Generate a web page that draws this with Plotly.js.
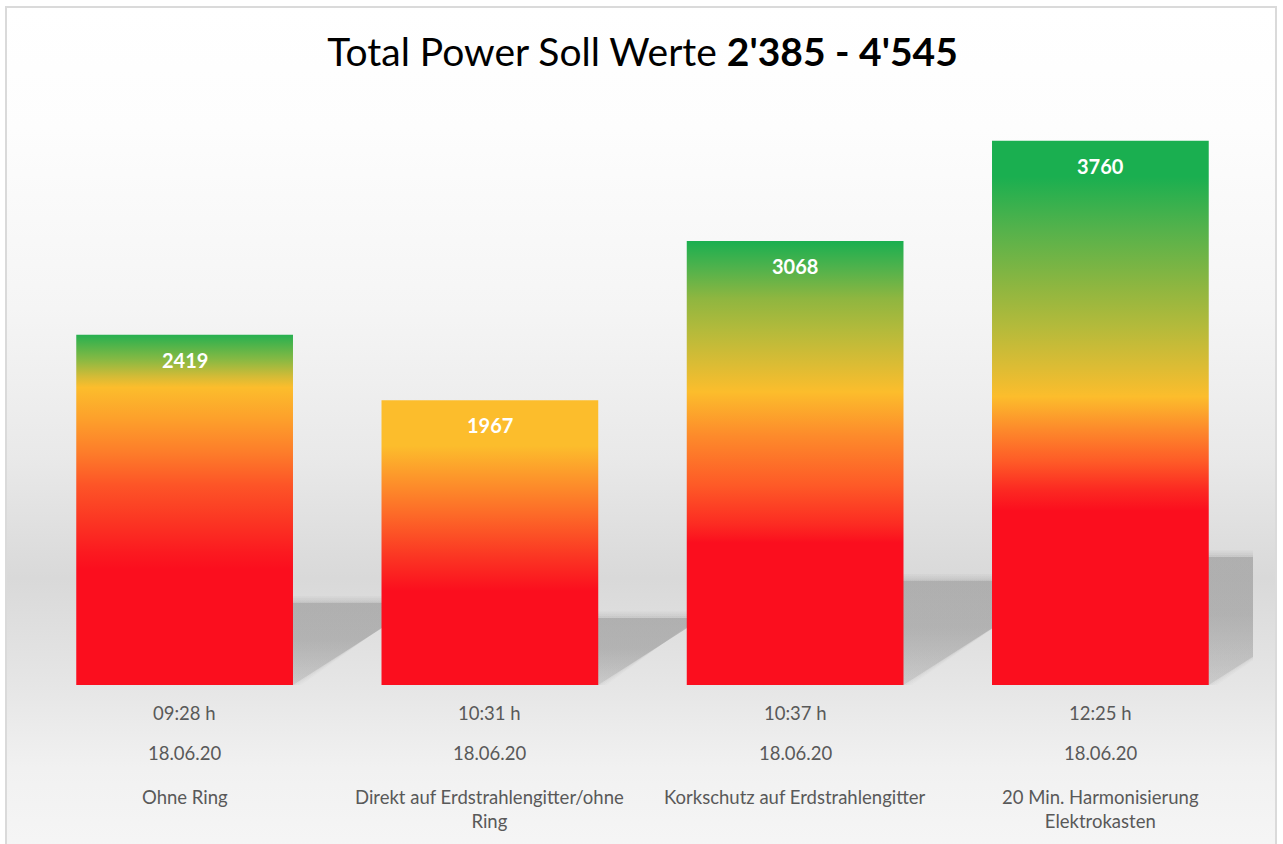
<!DOCTYPE html>
<html>
<head>
<meta charset="utf-8">
<script src="https://cdn.plot.ly/plotly-3.0.1.min.js"></script>
<style>
  html, body { margin: 0; padding: 0; background: #ffffff; }
  #frame {
    position: absolute; left: 5px; top: 6px; width: 1272px; height: 850px;
    border: 2px solid #dadada; box-sizing: border-box;
    background: linear-gradient(to bottom,
      #ffffff 0px, #fdfdfd 120px, #f5f5f5 300px, #e9e9e9 450px,
      #d9d9d9 570px, #e6e6e6 680px, #f1f1f1 760px, #f6f6f6 850px);
  }
  #chart { position: absolute; left: 0; top: 0; width: 1283px; height: 844px; }
</style>
</head>
<body>
<div id="frame"></div>
<div id="chart"></div>
<script>
// ---- data ----
const times = ["09:28 h", "10:31 h", "10:37 h", "12:25 h"];
const dates = ["18.06.20", "18.06.20", "18.06.20", "18.06.20"];
const descriptions = [
  "Ohne Ring",
  "Direkt auf Erdstrahlengitter/ohne<br>Ring",
  "Korkschutz auf Erdstrahlengitter",
  "20 Min. Harmonisierung<br>Elektrokasten"
];
const values = [2419, 1967, 3068, 3760];

// ---- style ----
const RED = "#fb0e1e", YEL = "#fcbd2c", GRN = "#1aaf50";
const gradients = [
  [[0, RED], [0.33, RED], [0.38, "#fb1a20"], [0.47, "#fb3623"], [0.57, "#fd5427"], [0.665, "#fd7d2a"], [0.76, "#fda02b"], [0.85, YEL], [0.88, "#d5bb36"], [0.93, "#86b943"], [1, "#27b050"]],
  [[0, RED], [0.33, RED], [0.45, "#fb3523"], [0.6, "#fd6a28"], [0.74, "#fd9a2b"], [0.84, YEL], [1, YEL]],
  [[0, RED], [0.32, RED], [0.36, "#fc2a22"], [0.45, "#fe5a27"], [0.56, "#fd8a2b"], [0.66, YEL], [0.72, "#dcbc34"], [0.8, "#b3ba3b"], [0.87, "#8fb640"], [0.94, "#4fb24c"], [1, GRN]],
  [[0, RED], [0.32, RED], [0.36, "#fc2a22"], [0.41, "#fe5a27"], [0.47, "#fd8a2b"], [0.53, YEL], [0.585, "#dcbc34"], [0.66, "#b3ba3b"], [0.73, "#8fb640"], [0.836, "#55b24b"], [0.934, GRN], [1, GRN]]
];
const halfW = 0.355;          // half bar width (category units)
const shadowRise = 0.235;     // shadow height as share of bar height
const shadowSkew = 0.000174;  // horizontal skew per value unit
const LABEL_FONT = { family: "Lato", size: 18.5, color: "#595959" };
// shadow layers: [grow (value units), alpha] — outer faint layers fake a blur
const shadowLayers = [[45, 0.1], [30, 0.12], [15, 0.14], [0, 0.62]];

const traces = [];
values.forEach((v, i) => {
  const h = v * shadowRise, s = v * shadowSkew;
  shadowLayers.forEach(([grow, a]) => {
    const hh = h + grow, ss = s + grow * shadowSkew * 1.6, gx = grow * 0.0006;
    traces.push({
      type: "scatter", mode: "lines", hoverinfo: "skip", showlegend: false,
      x: [i - halfW, i + halfW + gx, i + halfW + ss, i - halfW + ss, i - halfW],
      y: [0, 0, hh, hh, 0],
      line: { width: 0, color: "rgba(0,0,0,0)" },
      fill: "toself",
      fillgradient: { type: "vertical", start: 0, stop: hh,
        colorscale: [[0, "rgba(160,160,160," + (a * 0.45) + ")"], [0.55, "rgba(160,160,160," + (a * 0.95) + ")"], [1, "rgba(160,160,160," + a + ")"]] }
    });
  });
});
// bars
values.forEach((v, i) => {
  traces.push({
    type: "scatter", mode: "lines", hoverinfo: "skip", showlegend: false,
    x: [i - halfW, i + halfW, i + halfW, i - halfW, i - halfW],
    y: [0, 0, v, v, 0],
    line: { width: 0, color: "rgba(0,0,0,0)" },
    fill: "toself",
    fillgradient: { type: "vertical", start: 0, stop: v, colorscale: gradients[i] }
  });
});

const annotations = [];
values.forEach((v, i) => {
  annotations.push({
    x: i, y: v, xref: "x", yref: "y", text: String(v), showarrow: false,
    yanchor: "top", yshift: -11,
    font: { family: "Lato", size: 20, color: "#ffffff", weight: 700 }
  });
});
// category labels below the bars: time, date, description
[[times, -15], [dates, -55], [descriptions, -99]].forEach(([arr, shift]) => {
  arr.forEach((t, i) => {
    annotations.push({
      x: i, y: 0, xref: "x", yref: "paper", text: t, showarrow: false,
      yanchor: "top", yshift: shift, align: "center", font: LABEL_FONT
    });
  });
});

const layout = {
  width: 1283, height: 844,
  paper_bgcolor: "rgba(0,0,0,0)", plot_bgcolor: "rgba(0,0,0,0)",
  margin: { l: 32, r: 30, t: 106, b: 159 },
  title: {
    text: "Total Power Soll Werte <b>2'385 - 4'545</b>",
    font: { family: "Lato", size: 39, color: "#000000" },
    x: 0.5, xref: "paper", xanchor: "center",
    y: 1 - 52 / 844, yref: "container", yanchor: "middle"
  },
  xaxis: {
    range: [-0.5, 3.5], tickvals: [0, 1, 2, 3],
    showgrid: false, zeroline: false, showline: false, ticks: "",
    showticklabels: false, fixedrange: true
  },
  yaxis: {
    range: [0, 4000], showgrid: false, zeroline: false, showline: false,
    showticklabels: false, ticks: "", fixedrange: true
  },
  annotations: annotations,
  showlegend: false
};

Plotly.newPlot("chart", traces, layout, { displayModeBar: false, staticPlot: true });
</script>
</body>
</html>
